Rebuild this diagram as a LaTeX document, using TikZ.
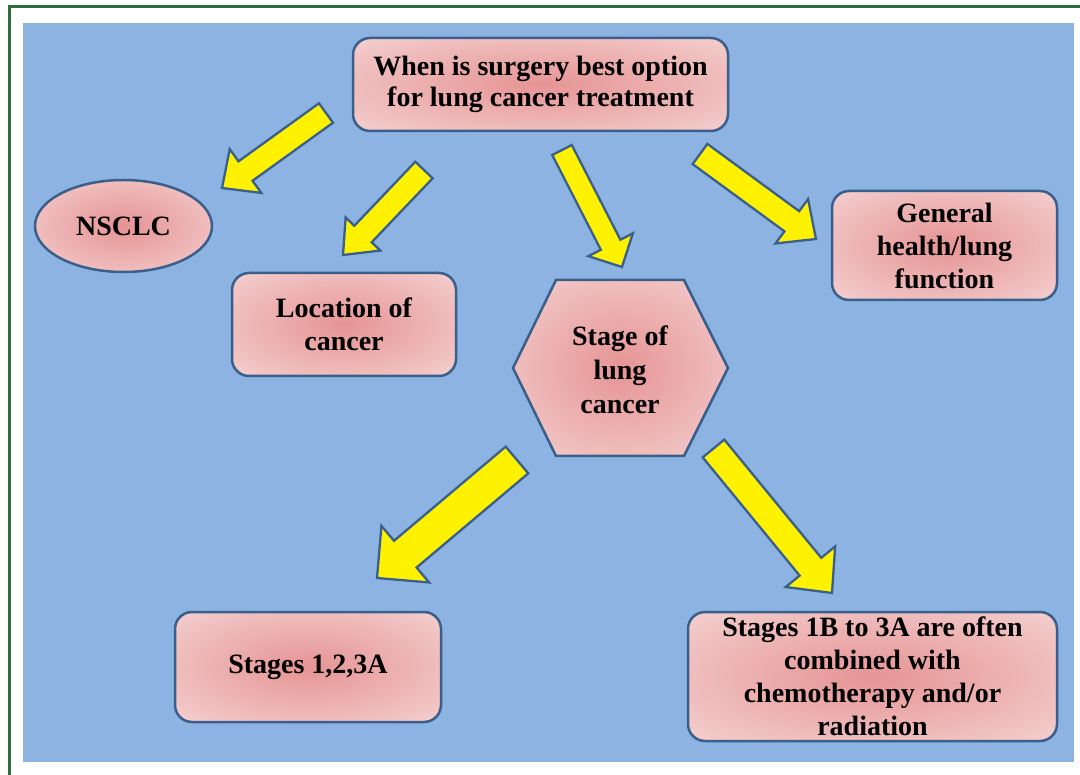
\documentclass[tikz,border=0pt]{standalone}
\usepackage{fontspec}
\setmainfont{Liberation Serif}
\usetikzlibrary{calc,shapes.geometric}

\definecolor{panelblue}{RGB}{141,179,226}
\definecolor{framegreen}{RGB}{46,110,60}
\definecolor{edgeblue}{RGB}{58,95,138}
\definecolor{pinkmid}{RGB}{230,148,148}
\definecolor{pinkrim}{RGB}{249,228,228}
\pgfdeclareradialshading{pinkglow}{\pgfpoint{0bp}{0bp}}{color(0bp)=(pinkmid); color(48bp)=(pinkrim); color(75bp)=(pinkrim)}

% block arrow: tail, tip, half shaft, half head, head length
\newcommand{\fatarrow}[5]{%
  \draw[fatarrowstyle] ($(#1)!#3!90:(#2)$) -- ($(#2)!#5!(#1)!#3!90:(#2)$)
    -- ($(#2)!#5!(#1)!#4!90:(#2)$) -- (#2)
    -- ($(#2)!#5!(#1)!#4!-90:(#2)$) -- ($(#2)!#5!(#1)!#3!-90:(#2)$)
    -- ($(#1)!#3!-90:(#2)$) -- cycle;}

\begin{document}
\begin{tikzpicture}[x=1pt,y=-1pt,
    box/.style={draw=edgeblue,line width=2.5pt,shading=pinkglow,rounded corners=17pt,
      align=center,inner sep=0pt,font=\bfseries\fontsize{28}{33}\selectfont},
    oval/.style={box,ellipse,rounded corners=0pt},
    fatarrowstyle/.style={draw=edgeblue,fill=yellow,line width=2.3pt,line join=miter}]
  \useasboundingbox (0,0) rectangle (1080,775);
  \clip (0,0) rectangle (1080,775);
  % frame and panel
  \draw [framegreen,line width=3pt] (1090,7) -- (9,7) -- (9,790);
  \fill [panelblue] (23,23) rectangle (1074,762);

  % boxes
  \node [box,minimum width=375pt,minimum height=93pt,font=\bfseries\fontsize{28}{31}\selectfont] (question) at (540.5,84.5) {When is surgery best option\\for lung cancer treatment};
  \node [oval,minimum width=177pt,minimum height=92pt] (nsclc) at (123.5,226) {NSCLC};
  \node [box,minimum width=224pt,minimum height=103pt] (location) at (344,324.5) {Location of\\cancer};
  \node [box,minimum width=225pt,minimum height=109pt] (health) at (944.5,245.5) {General\\health/lung\\function};
  \shade [draw=edgeblue,line width=2.5pt,shading=pinkglow] (513,368) -- (556,280) -- (684,280) -- (728,368) -- (684,456) -- (556,456) -- cycle;
  \node [align=center,inner sep=0pt,font=\bfseries\fontsize{28}{34}\selectfont] (stage) at (620,370) {Stage of\\lung\\cancer};
  \node [box,minimum width=266pt,minimum height=110pt] (early) at (308,667) {Stages 1,2,3A};
  \node [box,minimum width=369pt,minimum height=129pt] (combined) at (872.5,676.5) {Stages 1B to 3A are often\\combined with\\chemotherapy and/or\\radiation};

  % arrows
  \coordinate (t1) at (326,113);   \coordinate (h1) at (222,188);
  \coordinate (t2) at (424,170);   \coordinate (h2) at (343,255);
  \coordinate (t3) at (562,150);   \coordinate (h3) at (622,267);
  \coordinate (t4) at (700,154);   \coordinate (h4) at (816,239);
  \coordinate (t5) at (517,460);   \coordinate (h5) at (377,578);
  \coordinate (t6) at (713.5,448.5); \coordinate (h6) at (832,593);
  \fatarrow{t1}{h1}{12pt}{27pt}{29pt}
  \fatarrow{t2}{h2}{12pt}{24pt}{29pt}
  \fatarrow{t3}{h3}{11pt}{25pt}{25pt}
  \fatarrow{t4}{h4}{12.5pt}{27.5pt}{30pt}
  \fatarrow{t5}{h5}{17.5pt}{37pt}{37pt}
  \fatarrow{t6}{h6}{14pt}{32pt}{34pt}
\end{tikzpicture}
\end{document}
